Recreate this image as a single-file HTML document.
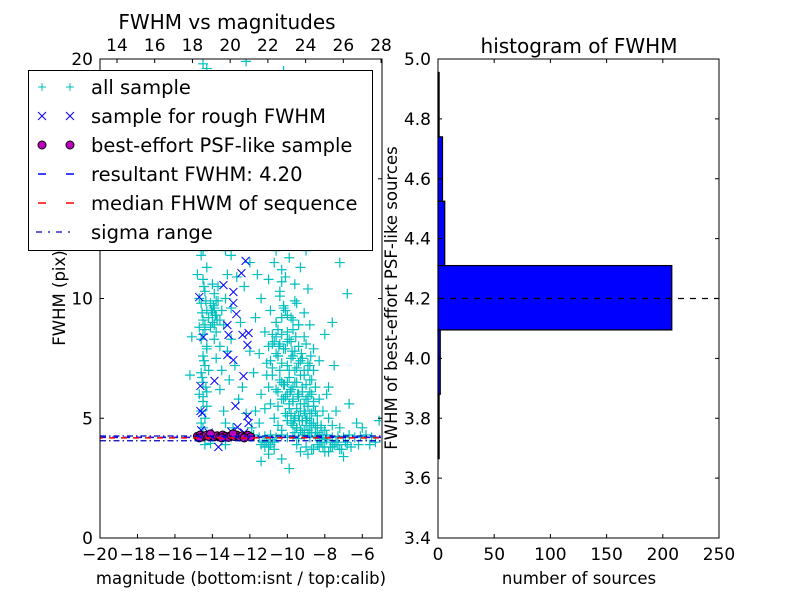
<!DOCTYPE html>
<html><head><meta charset="utf-8"><style>
html,body{margin:0;padding:0;background:#fff}
svg{display:block;font-family:"DejaVu Sans","Liberation Sans",sans-serif}
</style></head><body>
<svg id="chart" width="800" height="600" viewBox="0 0 800 600" xmlns="http://www.w3.org/2000/svg">
<rect width="800" height="600" fill="#fff"/>
<g id="left"></g>
<g id="right"></g>
</svg>
<script>
const allMag=[-14.5,-14.4,-14.6,-14.5,-14.3,-14.5,-14.6,-14.4,-14.5,-14.3,-14.6,-14.4,-14.5,-14.3,-14.6,-14.4,-14.5,-14.3,-14.6,-14.4,-14.2,-14.5,-14.3,-14.6,-14.4,-14.5,-14.3,-14.7,-14.2,-14.7,-14.2,-14.7,-14.6,-14.3,-14.5,-14.8,
-14.0,-13.8,-13.9,-14.1,-13.7,-13.9,-14.0,-13.6,-13.8,-14.1,-13.5,-13.7,-13.4,-13.9,-13.3,-14.0,
-13.2,-13.0,-12.8,-13.1,-12.7,-12.9,-12.5,-13.0,-12.4,-12.6,-12.2,-12.9,-13.3,-13.5,-13.2,-13.0,-13.6,-13.1,-12.8,-13.4,-12.6,-12.5,-12.3,-12.0,-12.2,-11.9,-13.8,-13.6,-13.0,-12.7,-12.0,-11.8,-12.4,-13.3,-12.9,-12.2,-11.9,
-11.5,-11.2,-11.0,-10.8,-10.5,-11.3,-10.2,-10.0,-10.6,-10.3,-9.8,-9.5,-9.2,-9.6,-11.6,-11.4,-11.0,-10.7,-10.4,-10.1,-9.9,-9.6,-9.3,-9.0,-8.7,-8.9,-11.7,-11.2,-10.9,-10.6,-10.2,-9.8,-9.5,-9.1,-8.8,-11.5,-11.1,-10.8,-10.5,-10.3,-10.0,-9.7,-9.4,-9.1,-8.6,-8.3,
-10.8,-10.6,-10.5,-10.4,-10.3,-10.2,-10.1,-10.0,-10.0,-9.9,-9.9,-9.8,-9.8,-9.7,-9.7,-9.6,-9.6,-9.5,-9.5,-9.4,-9.4,-9.3,-9.3,-9.2,-9.2,-9.1,-9.1,-9.0,-9.0,-8.9,-8.9,-8.8,-8.8,-8.7,-8.7,-8.6,-8.6,-8.5,-8.5,-8.4,-8.3,-8.2,-8.1,-8.0,-7.9,-7.8,-7.6,-7.4,-7.2,-10.7,-10.5,-10.9,-11.0,-11.2,-11.4,-11.5,-11.7,-11.9,-10.3,-10.0,-9.6,-9.2,-8.8,-8.4,-9.85,-9.45,-9.05,-9.65,-9.35,-8.95,-10.15,-9.75,-9.25,-8.75,-10.45,-9.55,
-11.8,-11.5,-11.2,-10.9,-10.6,-10.3,-10.0,-9.7,-9.4,-9.1,-8.8,-8.5,-8.2,-7.9,-7.6,-7.3,-7.0,-6.7,-6.4,-6.1,-5.8,-5.5,-11.0,-10.7,-9.5,-9.0,-8.7,-8.4,-8.1,-7.8,-7.5,-7.2,-6.9,-6.6,-6.2,-9.3,-8.9,-10.3,-9.9,-11.4,-11.0,-7.0,-6.0,-5.6,-5.1,-5.3,
-6.8,-7.2,-7.8,-7.5,-6.7,-6.3,-8.0,-7.6,-15.2,-15.1,-14.4,-14.1,-13.3,
-10.6,-10.4,-10.2,-10.0,-9.8,-9.6,-9.4,-9.2,-9.0,-8.8,-10.5,-10.3,-10.1,-9.9,-9.7,-9.5,-9.3,-9.1,-8.9,-8.7,-10.4,-10.2,-10.0,-9.8,-9.6,-9.4,-9.2,-9.0,-8.8,-8.6,-10.3,-10.1,-9.9,-9.7,-9.5,-9.3,-9.1,-8.9,-8.7,-8.5,-10.0,-9.8,-9.6,-9.4,-9.2,-9.0,-8.8,-8.6,-8.4,-8.2,-9.7,-9.5,-9.3,-9.1,-8.9,-8.7,-8.5,-8.3,-8.1,-7.9,
-10.6,-10.3,-10.0,-9.7,-9.4,-10.8,-10.5,-10.2,-9.9,-9.6,-11.0,-10.7,-10.4,-10.1,-10.9,-10.6,-10.3,-11.1,-10.8,-10.5,
-14.45,-14.35,-14.55,-14.4,-14.5,-14.3,-14.45,-14.55,-14.35,-14.5,-13.85,-13.95,-13.75,-14.05,-13.8,-13.9,
-11.3,-11.0,-10.7,-11.4,-11.1,-10.8,-11.2,-10.9,-8.0,-7.7,-7.4,-7.1,-6.8,-8.2,-7.9,-7.6,-7.3,-8.6,-8.3,-8.0];
const allFwhm=[4.6,5.0,5.3,5.7,6.1,6.5,6.9,7.2,7.6,8.0,8.3,8.7,9.1,9.5,9.8,10.3,10.8,11.3,11.8,12.4,13.0,13.6,14.5,15.5,17.0,19.8,19.6,6.0,7.0,8.8,9.2,10.0,4.8,5.5,12.0,11.0,
9.0,9.3,9.6,9.8,9.9,10.2,9.4,9.1,8.6,8.8,9.5,10.5,8.9,8.3,10.0,10.6,
11.0,11.8,12.5,13.2,14.0,15.0,16.5,17.8,18.5,19.2,19.9,13.8,12.0,7.0,7.8,8.3,6.2,6.6,7.2,5.3,5.8,9.0,10.5,11.5,12.8,13.6,7.5,8.0,9.6,10.9,7.8,6.9,6.3,4.8,4.6,5.2,12.3,
12.5,13.5,14.5,16.0,17.5,18.8,19.5,13.0,12.0,11.2,12.5,14.0,16.5,18.0,11.0,10.0,10.8,11.5,10.3,10.9,11.7,10.6,11.3,12.0,13.2,10.4,9.2,8.6,9.5,9.0,9.6,9.2,9.8,9.4,8.9,7.7,7.3,8.1,7.6,8.5,8.2,8.7,8.0,8.4,7.9,7.4,
6.8,6.2,5.5,7.0,6.5,5.8,5.2,7.2,6.0,6.7,5.4,4.8,7.5,6.3,5.7,7.0,5.1,6.5,4.6,7.3,5.9,6.8,5.3,6.1,4.9,7.0,5.6,6.4,4.7,5.9,7.3,5.2,6.6,4.8,6.0,5.5,7.0,4.6,6.3,5.1,5.8,4.7,5.3,4.5,6.0,5.0,4.7,5.3,4.6,5.0,4.7,5.6,6.3,5.4,6.0,4.8,5.3,4.6,4.5,4.9,4.4,4.4,4.4,4.4,6.1,6.0,5.2,4.9,4.9,5.0,6.4,7.8,7.7,7.6,8.0,8.4,
4.3,4.2,4.25,4.3,4.2,4.3,4.2,4.25,4.15,4.3,4.2,4.25,4.15,4.3,4.2,4.25,4.2,4.3,4.2,4.25,4.3,4.2,3.9,4.0,3.9,3.8,3.7,3.9,3.8,3.6,3.9,3.7,4.0,3.8,3.9,3.6,3.5,3.3,2.9,3.2,3.5,3.4,4.6,3.9,4.9,4.0,
10.2,11.5,6.3,7.2,5.6,4.8,8.5,9.0,6.8,8.4,3.9,3.95,3.9,
8.4,8.1,7.9,8.6,8.2,7.8,8.9,7.5,8.1,7.2,7.6,7.3,7.9,7.0,7.6,7.1,7.4,6.8,7.0,6.6,6.6,6.4,6.5,6.2,6.5,6.0,6.3,5.8,6.1,5.7,5.8,5.9,5.6,5.8,5.4,5.6,5.3,5.5,5.2,5.3,5.1,5.2,5.0,5.1,4.9,4.9,4.8,4.8,4.7,4.6,4.7,4.6,4.5,4.5,4.5,4.4,4.4,4.3,4.3,4.2,
9.0,9.2,9.3,9.1,8.9,8.5,8.7,9.7,8.3,9.9,8.0,8.2,10.1,9.5,7.4,7.7,10.7,6.8,7.1,6.1,
10.5,9.9,9.4,8.9,8.5,7.9,7.4,6.7,6.3,5.9,9.3,9.7,9.1,9.5,9.9,8.9,
4.0,3.8,3.7,3.9,4.0,4.1,3.8,3.9,4.0,3.8,4.0,3.7,3.9,4.0,4.1,3.8,3.9,3.7,3.8,3.6];
const roughMag=[-12.23,-12.45,-13.41,-14.70,-12.88,-12.88,-12.72,-14.48,-13.20,-13.14,-12.39,-12.07,-12.13,-13.20,-12.88,-12.34,-13.89,-14.64,-12.77,-14.64,-14.54,-12.13,-12.07,-12.66,-13.68,-14.6,-14.2,-13.0,-12.3];
const roughFwhm=[11.57,11.06,10.56,10.06,10.27,9.81,9.35,8.39,8.89,8.48,8.48,8.56,8.06,7.64,7.43,6.76,6.56,6.35,5.51,5.30,5.22,5.09,4.80,4.63,3.80,4.5,4.4,4.45,4.4];
const psfMag=[-14.8,-14.65,-14.5,-14.35,-14.2,-14.05,-13.9,-13.75,-13.6,-13.45,-13.3,-13.15,-13.0,-12.85,-12.7,-12.55,-12.4,-12.25,-12.1,-11.95,-14.7,-14.1,-13.5,-12.9,-12.3];
const psfFwhm=[4.25,4.3,4.22,4.28,4.24,4.3,4.22,4.27,4.23,4.3,4.25,4.2,4.28,4.24,4.3,4.22,4.27,4.24,4.29,4.22,4.18,4.35,4.18,4.35,4.18];
const resultantFwhm=4.20, medianFwhm=4.18, sigmaLow=4.06, sigmaHigh=4.26;
const binEdges=[3.665,3.88,4.095,4.31,4.525,4.74,4.955];
const binCounts=[1,2,208,6,4,1];
const xTicksBottom=[-20,-18,-16,-14,-12,-10,-8,-6];
const xTicksTop=[14,16,18,20,22,24,26,28];
const yTicksLeft=[0,5,10,15,20];
const histXTicks=[0,50,100,150,200,250];
const histYTicks=[3.4,3.6,3.8,4.0,4.2,4.4,4.6,4.8,5.0];

const NS="http://www.w3.org/2000/svg";
function mk(parent,tag,attrs,name,text){const e=document.createElementNS(NS,tag);for(const k in attrs)e.setAttribute(k,attrs[k]);


if(text!==undefined)e.textContent=text;parent.appendChild(e);return e;}

const L={x0:100,x1:381,y0:538,y1:59};
const xs=v=>L.x0+(v+20)/15*(L.x1-L.x0);
const ys=v=>L.y0-v/20*(L.y0-L.y1);
const xt=v=>100+(v-13.1)/(28.05-13.1)*282;
const left=document.getElementById('left');
const clip=mk(left,'clipPath',{id:'lclip'},'left-clip');
mk(clip,'rect',{x:L.x0,y:L.y1,width:L.x1-L.x0,height:L.y0-L.y1},'left-clip-rect');
const plot=mk(left,'g',{'clip-path':'url(#lclip)'},'left-plot-area');
const cy=mk(plot,'g',{stroke:'#00BFBF','stroke-width':1.2},'all-sample-series');
for(let i=0;i<allMag.length;i++){const x=xs(allMag[i]),y=ys(allFwhm[i]);
mk(cy,'path',{d:`M${x-5},${y}h10M${x},${y-5}v10`},'all-sample-point');}
const bl=mk(plot,'g',{stroke:'#0000ff','stroke-width':1},'rough-sample-series');
for(let i=0;i<roughMag.length;i++){const x=xs(roughMag[i]),y=ys(roughFwhm[i]);
mk(bl,'path',{d:`M${x-4},${y-4}l8,8M${x-4},${y+4}l8,-8`},'rough-sample-point');}
const mg=mk(plot,'g',{fill:'#BF00BF',stroke:'#000','stroke-width':1},'psf-sample-series');
for(let i=0;i<psfMag.length;i++){mk(mg,'circle',{cx:xs(psfMag[i]),cy:ys(psfFwhm[i]),r:4},'psf-sample-point');}
mk(plot,'line',{x1:L.x0,x2:L.x1,y1:ys(resultantFwhm),y2:ys(resultantFwhm),stroke:'#0000ff','stroke-width':1.5,'stroke-dasharray':'6,6'},'resultant-fwhm-line');
mk(plot,'line',{x1:L.x0,x2:L.x1,y1:ys(medianFwhm),y2:ys(medianFwhm),stroke:'#ff0000','stroke-width':1.5,'stroke-dasharray':'6,6','stroke-dashoffset':3},'median-fwhm-line');
[sigmaLow,sigmaHigh].forEach(v=>mk(plot,'line',{x1:L.x0,x2:L.x1,y1:ys(v),y2:ys(v),stroke:'#0000bb','stroke-width':1.2,'stroke-dasharray':'6,3,1.5,3'},'sigma-range-line'));
mk(left,'path',{d:`M${L.x0},${L.y1}H382V${L.y0}H${L.x0}Z`,fill:'none',stroke:'#000'},'left-axes-frame');
xTicksBottom.forEach(v=>{const x=xs(v);mk(left,'path',{d:`M${x},${L.y0}v-4`,stroke:'#000'},'x-tick');
mk(left,'text',{x:x,y:560,'text-anchor':'middle','font-size':17},'x-tick-label',(v<0?'\u2212':'')+Math.abs(v));});
xTicksTop.forEach(v=>{const x=xt(v);mk(left,'path',{d:`M${x},${L.y1}v4`,stroke:'#000'},'top-x-tick');
mk(left,'text',{x:x,y:51,'text-anchor':'middle','font-size':17},'top-x-tick-label',String(v));});
yTicksLeft.forEach(v=>{const y=ys(v);mk(left,'path',{d:`M${L.x0},${y}h4M382,${y}h-4`,stroke:'#000'},'y-tick');
mk(left,'text',{x:93,y:y+6,'text-anchor':'end','font-size':17},'y-tick-label',String(v));});
mk(left,'text',{x:241,y:584,'text-anchor':'middle','font-size':16.5},'x-axis-title','magnitude (bottom:isnt / top:calib)');
mk(left,'text',{x:0,y:0,'text-anchor':'middle','font-size':16.5,transform:'translate(65,298) rotate(-90)'},'y-axis-title','FWHM (pix)');
mk(left,'text',{x:227,y:29,'text-anchor':'middle','font-size':20},'left-chart-title','FWHM vs magnitudes');
const lg=mk(left,'g',{},'legend');
mk(lg,'rect',{x:28.5,y:70.5,width:344,height:180,fill:'#fff',stroke:'#000'},'legend-box');
const rows=[['all sample','plus'],['sample for rough FWHM','x'],['best-effort PSF-like sample','circle'],['resultant FWHM: 4.20','blue'],['median FHWM of sequence','red'],['sigma range','dashdot']];
rows.forEach((r,i)=>{const y=87+i*29;const g=mk(lg,'g',{},'legend-entry');
if(r[1]==='plus')[42,70].forEach(x=>mk(g,'path',{d:`M${x-4},${y}h8M${x},${y-4}v8`,stroke:'#00BFBF'},'legend-marker'));
if(r[1]==='x')[42,70].forEach(x=>mk(g,'path',{d:`M${x-4},${y-4}l8,8M${x-4},${y+4}l8,-8`,stroke:'#0000ff'},'legend-marker'));
if(r[1]==='circle')[42,70].forEach(x=>mk(g,'circle',{cx:x,cy:y,r:4,fill:'#BF00BF',stroke:'#000'},'legend-marker'));
if(r[1]==='blue')mk(g,'path',{d:`M38,${y}h8M66,${y}h8`,stroke:'#0000ff','stroke-width':1.5},'legend-line');
if(r[1]==='red')mk(g,'path',{d:`M38,${y}h8M66,${y}h8`,stroke:'#ff0000','stroke-width':1.5},'legend-line');
if(r[1]==='dashdot')mk(g,'path',{d:`M36,${y}h6M48,${y}h2M56,${y}h6M68,${y}h2`,stroke:'#0000bb','stroke-width':1.3},'legend-line');
mk(g,'text',{x:91,y:y+7,'font-size':19.5},'legend-label',r[0]);});

const R={x0:438,x1:719,y0:538,y1:59};
const hx=v=>R.x0+v/250*(R.x1-R.x0);
const hy=v=>R.y0-(v-3.4)/1.6*(R.y0-R.y1);
const right=document.getElementById('right');
for(let i=0;i<binCounts.length;i++){const yTop=hy(binEdges[i+1]),yBot=hy(binEdges[i]);
mk(right,'rect',{x:R.x0,y:yTop,width:Math.max(hx(binCounts[i])-R.x0,0.8),height:yBot-yTop,fill:'#0000ff',stroke:'#000','stroke-width':1.2},'histogram-bar');}
mk(right,'line',{x1:R.x0,x2:R.x1,y1:hy(resultantFwhm),y2:hy(resultantFwhm),stroke:'#000','stroke-width':1.2,'stroke-dasharray':'6,6'},'histogram-fwhm-line');
mk(right,'rect',{x:R.x0,y:R.y1,width:R.x1-R.x0,height:R.y0-R.y1,fill:'none',stroke:'#000'},'right-axes-frame');
histXTicks.forEach(v=>{const x=hx(v);mk(right,'path',{d:`M${x},${R.y0}v-4M${x},${R.y1}v4`,stroke:'#000'},'hist-x-tick');
mk(right,'text',{x:x,y:560,'text-anchor':'middle','font-size':17},'hist-x-tick-label',String(v));});
histYTicks.forEach(v=>{const y=hy(v);mk(right,'path',{d:`M${R.x0},${y}h4M${R.x1},${y}h-4`,stroke:'#000'},'hist-y-tick');
mk(right,'text',{x:431,y:y+6,'text-anchor':'end','font-size':17},'hist-y-tick-label',v.toFixed(1));});
mk(right,'text',{x:579,y:584,'text-anchor':'middle','font-size':16.5},'hist-x-axis-title','number of sources');
mk(right,'text',{x:0,y:0,'text-anchor':'middle','font-size':16.5,transform:'translate(397,298) rotate(-90)'},'hist-y-axis-title','FWHM of best-effort PSF-like sources');
mk(right,'text',{x:579,y:53,'text-anchor':'middle','font-size':20},'hist-chart-title','histogram of FWHM');
</script>
</body></html>
